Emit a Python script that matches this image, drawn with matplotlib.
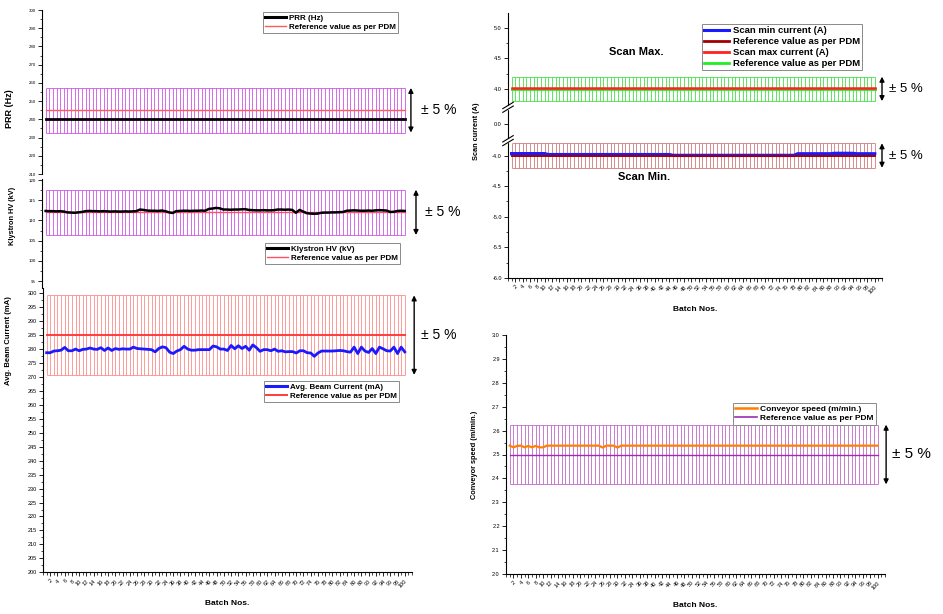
import numpy as np
import matplotlib
matplotlib.use("Agg")
import matplotlib.pyplot as plt
from matplotlib.ticker import MultipleLocator, FixedLocator, FormatStrFormatter
from matplotlib.lines import Line2D

plt.rcParams['font.family'] = ['Liberation Sans', 'DejaVu Sans']

# ---------------- data ----------------
batches = np.arange(1, 101)
xtick_vals = list(range(2, 101, 2))

prr_ref = 245.0
prr_hz = [240.0] * 100

klystron_ref = 112.0
klystron_kv = [
    112.35, 112.3, 112.3, 112.25, 112.3, 112.2,
    112.0, 111.95, 111.9, 112.0, 112.1,
    112.3, 112.35, 112.3, 112.3, 112.25, 112.3, 112.25, 112.2, 112.25, 112.2, 112.2, 112.25, 112.2, 112.25, 112.3,
    112.7, 112.6,
    112.45, 112.4, 112.4, 112.35, 112.45, 112.3,
    112.0,
    111.85,
    112.3, 112.35, 112.4, 112.4, 112.35, 112.4, 112.4, 112.45, 112.4,
    112.85, 112.95, 113.1, 113.0,
    112.7, 112.7, 112.65, 112.7, 112.7, 112.75, 112.8,
    112.6, 112.55, 112.5, 112.5, 112.55, 112.5, 112.5, 112.55,
    112.7, 112.7, 112.65, 112.7, 112.6,
    111.9,
    112.6,
    112.2,
    111.8, 111.7, 111.65, 111.7,
    111.9, 111.95, 111.95, 112.0, 112.0, 112.05, 112.1,
    112.4, 112.45, 112.5, 112.45, 112.4, 112.4, 112.45, 112.4,
    112.5, 112.55, 112.5, 112.45,
    112.1, 112.15,
    112.35, 112.4, 112.35,
]

beam_ref = 285.0
beam_ma = [
    278.7, 278.7, 279.3, 279.4, 279.6, 280.6, 279.4, 279.4, 280.0, 279.4,
    279.9, 280.0, 280.4, 280.0, 279.9, 280.5, 279.5, 280.4, 279.5, 280.2,
    279.9, 280.1, 280.0, 280.0, 280.7, 280.2, 280.1, 280.0, 279.9, 279.8,
    279.0, 280.2, 280.8, 280.5, 278.9, 278.4, 279.3, 279.8, 281.0, 280.0,
    279.6, 279.6, 279.8, 279.8, 279.8, 279.8, 281.1, 280.8, 280.0, 280.0,
    279.5, 281.3, 280.1, 281.2, 280.2, 281.0, 279.6, 281.5, 280.5, 279.2,
    279.8, 279.8, 279.4, 280.0, 279.2, 279.4, 279.0, 279.1, 279.1, 278.6,
    279.4, 279.4, 278.7, 278.6, 277.4, 278.6, 279.3, 279.3, 279.3, 279.3,
    279.4, 279.5, 279.4, 279.1, 278.9, 280.7, 278.4, 280.7, 279.3, 278.8,
    280.2, 278.4, 280.7, 280.1, 279.4, 279.3, 280.7, 278.4, 280.7, 279.0,
]

scan_min_ref = -4.0
scan_min_a = ([-3.97] * 10 + [-3.985] * 34 + [-3.998] * 34 +
              [-3.972] * 10 + [-3.965] * 6 + [-3.972] * 6)
scan_max_ref = 4.0
scan_max_a = [4.02] * 100

conv_ref = 2.5
conv_speed = ([2.537, 2.530, 2.536, 2.537, 2.530, 2.536, 2.530, 2.536, 2.530, 2.530] +
              [2.537] * 15 + [2.529] + [2.537] * 3 + [2.529] + [2.537] * 70)

# ---------------- figure ----------------
W, H = 943, 614
fig = plt.figure(figsize=(W / 100, H / 100), dpi=100)


def add_ax(l, t, r, b):
    return fig.add_axes([l / W, 1 - b / H, (r - l) / W, (b - t) / H])


def style(ax, show_x, yfs):
    for s in ['top', 'right']:
        ax.spines[s].set_visible(False)
    for s in ['left', 'bottom']:
        ax.spines[s].set_linewidth(0.8)
    ax.set_xlim(0, 102)
    ax.tick_params(axis='y', which='major', length=3, width=0.6, labelsize=yfs, pad=1.5)
    ax.tick_params(axis='y', which='minor', length=1.6, width=0.5)
    if show_x:
        ax.xaxis.set_major_locator(FixedLocator(xtick_vals))
        ax.xaxis.set_minor_locator(MultipleLocator(1))
        ax.set_xticklabels([str(v) for v in xtick_vals], rotation=45, ha='right',
                           va='top', rotation_mode='anchor', fontsize=4)
        ax.tick_params(axis='x', which='major', length=3, width=0.6, pad=1.5)
        ax.tick_params(axis='x', which='minor', length=1.8, width=0.5)
        ax.set_xlabel('Batch Nos.', fontsize=6, fontweight='bold', labelpad=8)
    else:
        ax.spines['bottom'].set_visible(False)
        ax.tick_params(axis='x', which='both', bottom=False, labelbottom=False)


def band(ax, ref, color, lw=0.6):
    lo, hi = sorted([ref * 0.95, ref * 1.05])
    ax.vlines(batches, lo, hi, colors=color, lw=lw, zorder=1)
    ax.hlines([lo, hi], batches[0], batches[-1], colors=color, lw=lw, zorder=1)


def pm(ax, xa, xt, ref, fs=10):
    lo, hi = sorted([ref * 0.95, ref * 1.05])
    ax.annotate('', xy=(xa, hi), xytext=(xa, lo),
                arrowprops=dict(arrowstyle='<|-|>', color='black', lw=1.0,
                                mutation_scale=7, shrinkA=0, shrinkB=0),
                annotation_clip=False)
    ax.text(xt, ref, '± 5 %', fontsize=fs, va='center', ha='left', clip_on=False)


def legend(ax, handles, labels, l, t, fs):
    leg = ax.legend(handles, labels, loc='upper left', bbox_to_anchor=(l / W, 1 - t / H),
                    bbox_transform=fig.transFigure, prop={'size': fs, 'weight': 'bold'},
                    frameon=True, fancybox=False, edgecolor='#8a8a8a', framealpha=1,
                    borderpad=0.25, labelspacing=0.2, handlelength=2.6,
                    handletextpad=0.4, borderaxespad=0)
    leg.get_frame().set_linewidth(0.7)
    return leg


# ---- Panel 1: PRR ----
ax1 = add_ax(42, 10, 412, 174)
ax1.set_ylim(210, 300)
style(ax1, False, 3.2)
ax1.yaxis.set_major_locator(MultipleLocator(10))
ax1.yaxis.set_minor_locator(MultipleLocator(5))
band(ax1, prr_ref, '#cc55e6')
ax1.axhline(prr_ref, xmin=1 / 102, xmax=100 / 102, color='#ff5a5a', lw=1.0, zorder=2)
ax1.plot(batches, prr_hz, color='black', lw=2.0, zorder=3)
pm(ax1, 101.7, 104.5, prr_ref)
legend(ax1, [Line2D([], [], color='black', lw=2.2), Line2D([], [], color='#ff5a5a', lw=1.0)],
       ['PRR (Hz)', 'Reference value as per PDM'], 263, 12, 5.8)
fig.text(10 / W, 1 - 109 / H, 'PRR (Hz)', rotation=90, fontsize=6.5, fontweight='bold',
         ha='center', va='center')

# ---- Panel 2: Klystron ----
ax2 = add_ax(42, 178.8, 412, 288)
ax2.set_ylim(93.3, 120.3)
style(ax2, False, 3.2)
ax2.yaxis.set_major_locator(MultipleLocator(5))
ax2.yaxis.set_minor_locator(MultipleLocator(2.5))
band(ax2, klystron_ref, '#cc55e6')
ax2.axhline(klystron_ref, xmin=1 / 102, xmax=100 / 102, color='#ff4f6a', lw=1.0, zorder=2)
ax2.plot(batches, klystron_kv, color='black', lw=1.8, zorder=3)
pm(ax2, 103.1, 105.6, klystron_ref)
legend(ax2, [Line2D([], [], color='black', lw=2.2), Line2D([], [], color='#ff4f6a', lw=1.0)],
       ['Klystron HV (kV)', 'Reference value as per PDM'], 265, 243, 5.8)
fig.text(13 / W, 1 - 216 / H, 'Klystron HV (kV)', rotation=90, fontsize=5.3, fontweight='bold',
         ha='center', va='center')

# ---- Panel 3: Beam current ----
ax3 = add_ax(43, 287.7, 412, 572.3)
ax3.set_ylim(200, 302)
style(ax3, True, 4)
ax3.yaxis.set_major_locator(MultipleLocator(5))
ax3.yaxis.set_minor_locator(MultipleLocator(2.5))
band(ax3, beam_ref, '#ff8a8a')
ax3.axhline(beam_ref, xmin=1 / 102, xmax=100 / 102, color='#ff3b3b', lw=1.4, zorder=2)
ax3.plot(batches, beam_ma, color='#1a1aff', lw=2.0, zorder=3)
pm(ax3, 102.6, 104.5, beam_ref)
legend(ax3, [Line2D([], [], color='#1a1aff', lw=2.2), Line2D([], [], color='#ff3b3b', lw=1.4)],
       ['Avg. Beam Current (mA)', 'Reference value as per PDM'], 264, 381, 5.8)
fig.text(9 / W, 1 - 341 / H, 'Avg. Beam Current (mA)', rotation=90, fontsize=5.5,
         fontweight='bold', ha='center', va='center')

# ---- Panel 4: Scan current (broken axis) ----
seg_v = [-6.0, -3.78, -0.25, 0.25, 3.72, 5.24]
seg_p = [0.0, 135.9, 138.7, 169.3, 171.9, 264.9]


def fwd(v):
    return np.interp(v, seg_v, seg_p)


def inv(p):
    return np.interp(p, seg_p, seg_v)


ax4 = add_ax(508, 13, 882, 278)
ax4.set_yscale('function', functions=(fwd, inv))
ax4.set_ylim(-6.0, 5.24)
style(ax4, True, 4)
ax4.yaxis.set_major_locator(FixedLocator([-6, -5.5, -5, -4.5, -4, 0, 4, 4.5, 5]))
ax4.yaxis.set_minor_locator(FixedLocator([-5.75, -5.25, -4.75, -4.25, 4.25, 4.75]))
ax4.yaxis.set_major_formatter(FormatStrFormatter('%.1f'))
band(ax4, scan_max_ref, '#44e044')
band(ax4, scan_min_ref, '#d27a7a')
ax4.plot(batches, [scan_max_ref] * 100, color='#22ee22', lw=2.0, zorder=2)
ax4.plot(batches, scan_max_a, color='#ff2020', lw=1.8, zorder=3)
ax4.plot(batches, scan_min_a, color='#1a1aff', lw=2.4, zorder=2)
ax4.plot(batches, [scan_min_ref] * 100, color='#a00000', lw=1.4, zorder=3)
pm(ax4, 102.0, 103.9, scan_max_ref, fs=9.5)
pm(ax4, 102.0, 103.9, scan_min_ref, fs=9.5)
legend(ax4, [Line2D([], [], color='#1a1aff', lw=2.2), Line2D([], [], color='#a00000', lw=2.0),
             Line2D([], [], color='#ff2020', lw=2.0), Line2D([], [], color='#22ee22', lw=2.0)],
       ['Scan min current (A)', 'Reference value as per PDM', 'Scan max current (A)',
        'Reference value as per PDM'], 702, 24, 6.8)
ax4.text(35, 4.6, 'Scan Max.', fontsize=8, fontweight='bold', ha='center', va='center')
ax4.text(37, -4.35, 'Scan Min.', fontsize=8, fontweight='bold', ha='center', va='center')
fig.text(477 / W, 1 - 131 / H, 'Scan current (A)', rotation=90, fontsize=5.3,
         fontweight='bold', ha='center', va='center')
# break marks on the left spine
ptop = seg_p[-1]
for pbrk in [137.3, 170.6]:
    yf = pbrk / ptop
    ax4.fill_between([-0.012, 0.012], yf - 0.006, yf + 0.006, color='white',
                     transform=ax4.transAxes, clip_on=False, zorder=5)
    for d in (-0.007, 0.007):
        ax4.plot([-0.014, 0.014], [yf + d - 0.012, yf + d + 0.012], color='black', lw=0.8,
                 transform=ax4.transAxes, clip_on=False, zorder=6)

# ---- Panel 5: Conveyor speed ----
ax5 = add_ax(506, 335, 885, 574)
ax5.set_ylim(2.0, 3.0)
style(ax5, True, 4)
ax5.yaxis.set_major_locator(MultipleLocator(0.1))
ax5.yaxis.set_minor_locator(MultipleLocator(0.05))
ax5.yaxis.set_major_formatter(FormatStrFormatter('%.1f'))
band(ax5, conv_ref, '#c266c8')
ax5.axhline(conv_ref, xmin=1 / 102, xmax=100 / 102, color='#9a2fb0', lw=1.0, zorder=2)
ax5.plot(batches, conv_speed, color='#ff7f00', lw=1.6, zorder=3)
pm(ax5, 102.3, 103.9, conv_ref, fs=11)
legend(ax5, [Line2D([], [], color='#ff7f00', lw=1.8), Line2D([], [], color='#9a2fb0', lw=1.2)],
       ['Conveyor speed (m/min.)', 'Reference value as per PDM'], 733, 403, 6.0)
fig.text(475 / W, 1 - 455 / H, 'Conveyor speed (m/min.)', rotation=90, fontsize=5.3,
         fontweight='bold', ha='center', va='center')

fig.savefig('out.png', dpi=100)
